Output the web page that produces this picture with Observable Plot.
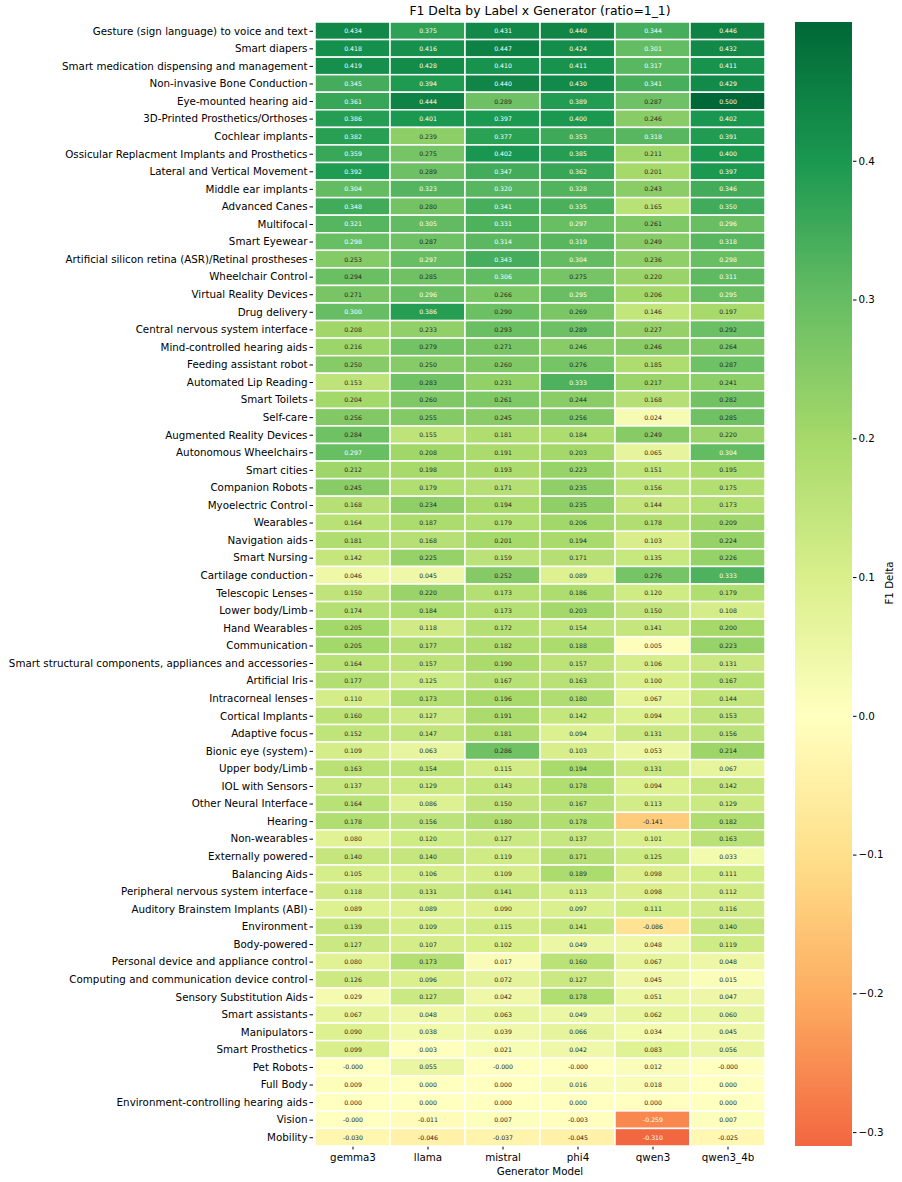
<!DOCTYPE html>
<html>
<head>
<meta charset="utf-8">
<script src="https://cdn.jsdelivr.net/npm/d3@7"></script>
<script src="https://cdn.jsdelivr.net/npm/@observablehq/plot@0.6"></script>
<style>
  html, body { margin: 0; padding: 0; background: white; }
  body { font-family: "DejaVu Sans", sans-serif; color: black; }
  #wrap { position: relative; width: 902px; height: 1182px; overflow: hidden; }
  .txt { position: absolute; white-space: nowrap; line-height: normal; }
  #title { top: 3px; left: 540px; transform: translateX(-50%); font-size: 12.4px; }
  #xlabel { top: 1165px; left: 540px; transform: translateX(-50%); font-size: 10.3px; }
  #cblabel { top: 583px; left: 889px; transform: translate(-50%, -50%) rotate(-90deg); font-size: 10.3px; }
</style>
</head>
<body>
<div id="wrap">
  <div class="txt" id="title">F1 Delta by Label x Generator (ratio=1_1)</div>
  <div class="txt" id="xlabel">Generator Model</div>
  <div class="txt" id="cblabel">F1 Delta</div>
</div>
<script>
// Row labels, top to bottom
const labels = [
  "Gesture (sign language) to voice and text",
  "Smart diapers",
  "Smart medication dispensing and management",
  "Non-invasive Bone Conduction",
  "Eye-mounted hearing aid",
  "3D-Printed Prosthetics/Orthoses",
  "Cochlear implants",
  "Ossicular Replacment Implants and Prosthetics",
  "Lateral and Vertical Movement",
  "Middle ear implants",
  "Advanced Canes",
  "Multifocal",
  "Smart Eyewear",
  "Artificial silicon retina (ASR)/Retinal prostheses",
  "Wheelchair Control",
  "Virtual Reality Devices",
  "Drug delivery",
  "Central nervous system interface",
  "Mind-controlled hearing aids",
  "Feeding assistant robot",
  "Automated Lip Reading",
  "Smart Toilets",
  "Self-care",
  "Augmented Reality Devices",
  "Autonomous Wheelchairs",
  "Smart cities",
  "Companion Robots",
  "Myoelectric Control",
  "Wearables",
  "Navigation aids",
  "Smart Nursing",
  "Cartilage conduction",
  "Telescopic Lenses",
  "Lower body/Limb",
  "Hand Wearables",
  "Communication",
  "Smart structural components, appliances and accessories",
  "Artificial Iris",
  "Intracorneal lenses",
  "Cortical Implants",
  "Adaptive focus",
  "Bionic eye (system)",
  "Upper body/Limb",
  "IOL with Sensors",
  "Other Neural Interface",
  "Hearing",
  "Non-wearables",
  "Externally powered",
  "Balancing Aids",
  "Peripheral nervous system interface",
  "Auditory Brainstem Implants (ABI)",
  "Environment",
  "Body-powered",
  "Personal device and appliance control",
  "Computing and communication device control",
  "Sensory Substitution Aids",
  "Smart assistants",
  "Manipulators",
  "Smart Prosthetics",
  "Pet Robots",
  "Full Body",
  "Environment-controlling hearing aids",
  "Vision",
  "Mobility"
];

// Generator models (columns)
const models = ["gemma3", "llama", "mistral", "phi4", "qwen3", "qwen3_4b"];

// F1 delta per label, one array per generator (tiny negatives print as -0.000)
const gemma3 = [0.434,0.418,0.419,0.345,0.361,0.386,0.382,0.359,0.392,0.304,
  0.348,0.321,0.298,0.253,0.294,0.271,0.300,0.208,0.216,0.250,
  0.153,0.204,0.256,0.284,0.297,0.212,0.245,0.168,0.164,0.181,
  0.142,0.046,0.150,0.174,0.205,0.205,0.164,0.177,0.110,0.160,
  0.152,0.109,0.163,0.137,0.164,0.178,0.080,0.140,0.105,0.118,
  0.089,0.139,0.127,0.080,0.126,0.029,0.067,0.090,0.099,-0.0001,
  0.009,0.000,-0.0001,-0.030];
const llama = [0.375,0.416,0.428,0.394,0.444,0.401,0.239,0.275,0.289,0.323,
  0.280,0.305,0.287,0.297,0.285,0.296,0.386,0.233,0.279,0.250,
  0.283,0.260,0.255,0.155,0.208,0.198,0.179,0.234,0.187,0.168,
  0.225,0.045,0.220,0.184,0.118,0.177,0.157,0.125,0.173,0.127,
  0.147,0.063,0.154,0.129,0.086,0.156,0.120,0.140,0.106,0.131,
  0.089,0.109,0.107,0.173,0.096,0.127,0.048,0.038,0.003,0.055,
  0.000,0.000,-0.011,-0.046];
const mistral = [0.431,0.447,0.410,0.440,0.289,0.397,0.377,0.402,0.347,0.320,
  0.341,0.331,0.314,0.343,0.306,0.266,0.290,0.293,0.271,0.260,
  0.231,0.261,0.245,0.181,0.191,0.193,0.171,0.194,0.179,0.201,
  0.159,0.252,0.173,0.173,0.172,0.182,0.190,0.167,0.196,0.191,
  0.181,0.286,0.115,0.143,0.150,0.180,0.127,0.119,0.109,0.141,
  0.090,0.115,0.102,0.017,0.072,0.042,0.063,0.039,0.021,-0.0001,
  0.000,0.000,0.007,-0.037];
const phi4 = [0.440,0.424,0.411,0.430,0.389,0.400,0.353,0.385,0.362,0.328,
  0.335,0.297,0.319,0.304,0.275,0.295,0.269,0.289,0.246,0.276,
  0.333,0.244,0.256,0.184,0.203,0.223,0.235,0.235,0.206,0.194,
  0.171,0.089,0.186,0.203,0.154,0.188,0.157,0.163,0.180,0.142,
  0.094,0.103,0.194,0.178,0.167,0.178,0.137,0.171,0.189,0.113,
  0.097,0.141,0.049,0.160,0.127,0.178,0.049,0.066,0.042,-0.0001,
  0.016,0.000,-0.003,-0.045];
const qwen3 = [0.344,0.301,0.317,0.341,0.287,0.246,0.318,0.211,0.201,0.243,
  0.165,0.261,0.249,0.236,0.220,0.206,0.146,0.227,0.246,0.185,
  0.217,0.168,0.024,0.249,0.065,0.151,0.156,0.144,0.178,0.103,
  0.135,0.276,0.120,0.150,0.141,0.005,0.106,0.100,0.067,0.094,
  0.131,0.053,0.131,0.094,0.113,-0.141,0.101,0.125,0.098,0.098,
  0.111,-0.086,0.048,0.067,0.045,0.051,0.062,0.034,0.083,0.012,
  0.018,0.000,-0.259,-0.310];
const qwen3_4b = [0.446,0.432,0.411,0.429,0.500,0.402,0.391,0.400,0.397,0.346,
  0.350,0.296,0.318,0.298,0.311,0.295,0.197,0.292,0.264,0.287,
  0.241,0.282,0.285,0.220,0.304,0.195,0.175,0.173,0.209,0.224,
  0.226,0.333,0.179,0.108,0.200,0.223,0.131,0.167,0.144,0.153,
  0.156,0.214,0.067,0.142,0.129,0.182,0.163,0.033,0.111,0.112,
  0.116,0.140,0.119,0.048,0.015,0.047,0.060,0.045,0.056,-0.0001,
  0.000,0.000,0.007,-0.025];

// Colour bar tick values
const colorbarTicks = [-0.3, -0.2, -0.1, 0.0, 0.1, 0.2, 0.3, 0.4];

// RdYlGn stops, centred on zero with a symmetric ±0.5 range
const rdylgn = ["#a50026","#d73027","#f46d43","#fdae61","#fee08b","#ffffbf",
                "#d9ef8b","#a6d96a","#66bd63","#1a9850","#006837"];
const colorStops = d3.range(11).map(i => -0.5 + i * 0.1);
const colorScale = {type: "linear", domain: colorStops, range: rdylgn, interpolate: "rgb", clamp: true};
const colorFn = d3.scaleLinear().domain(colorStops).range(rdylgn).interpolate(d3.interpolateRgb).clamp(true);

const series = {gemma3, llama, mistral, phi4, qwen3, qwen3_4b};
const table = [];
labels.forEach((label, i) => {
  models.forEach(model => table.push({label, model, value: series[model][i]}));
});

// Light cells get dark annotations, dark cells get white ones (relative luminance)
function luminance(c) {
  const rgb = d3.rgb(c);
  const lin = v => { v /= 255; return v <= 0.03928 ? v / 12.92 : Math.pow((v + 0.055) / 1.055, 2.4); };
  return 0.2126 * lin(rgb.r) + 0.7152 * lin(rgb.g) + 0.0722 * lin(rgb.b);
}
const isLight = d => luminance(colorFn(d.value)) > 0.408;
const fmt = d => d.value.toFixed(3);

const font = "'DejaVu Sans', sans-serif";

const heat = Plot.plot({
  width: 780,
  height: 1182,
  marginLeft: 313,
  marginRight: 13,
  marginTop: 22,
  marginBottom: 36,
  style: {fontFamily: font, fontSize: "10.3px", color: "black", background: "transparent", overflow: "visible"},
  x: {domain: models, padding: 0, label: null, tickSize: 3.5, tickPadding: 3.5},
  y: {domain: labels, padding: 0, label: null, tickSize: 3.5, tickPadding: 2.5},
  color: colorScale,
  marks: [
    Plot.cell(table, {x: "model", y: "label", fill: "value", stroke: "white", strokeWidth: 1.5}),
    Plot.text(table.filter(isLight), {x: "model", y: "label", text: fmt, fill: "#262626", fontSize: 6.2}),
    Plot.text(table.filter(d => !isLight(d)), {x: "model", y: "label", text: fmt, fill: "white", fontSize: 6.2})
  ]
});

// Colour bar spanning the data range
const allValues = models.flatMap(m => series[m]);
const [lo, hi] = d3.extent(allValues);
const N = 400;
const steps = d3.range(N).map(i => {
  const a = lo + (hi - lo) * i / N;
  const b = lo + (hi - lo) * (i + 1) / N;
  return {y1: a, y2: b, v: (a + b) / 2};
});

const bar = Plot.plot({
  width: 122,
  height: 1182,
  marginLeft: 15,
  marginRight: 50,
  marginTop: 22,
  marginBottom: 36,
  style: {fontFamily: font, fontSize: "10.3px", color: "black", background: "transparent", overflow: "visible"},
  x: {domain: [0, 1], axis: null},
  y: {domain: [lo, hi], axis: "right", ticks: colorbarTicks, tickFormat: d3.format(".1f"),
      tickSize: 3.5, tickPadding: 2.5, label: null},
  color: colorScale,
  marks: [
    Plot.rect(steps, {x1: () => 0, x2: () => 1, y1: "y1", y2: "y2", fill: "v", shapeRendering: "crispEdges"})
  ]
});

const wrap = document.getElementById("wrap");
heat.style.position = "absolute";
heat.style.left = "0px";
heat.style.top = "0px";
bar.style.position = "absolute";
bar.style.left = "780px";
bar.style.top = "0px";
wrap.prepend(bar);
wrap.prepend(heat);
</script>
</body>
</html>
